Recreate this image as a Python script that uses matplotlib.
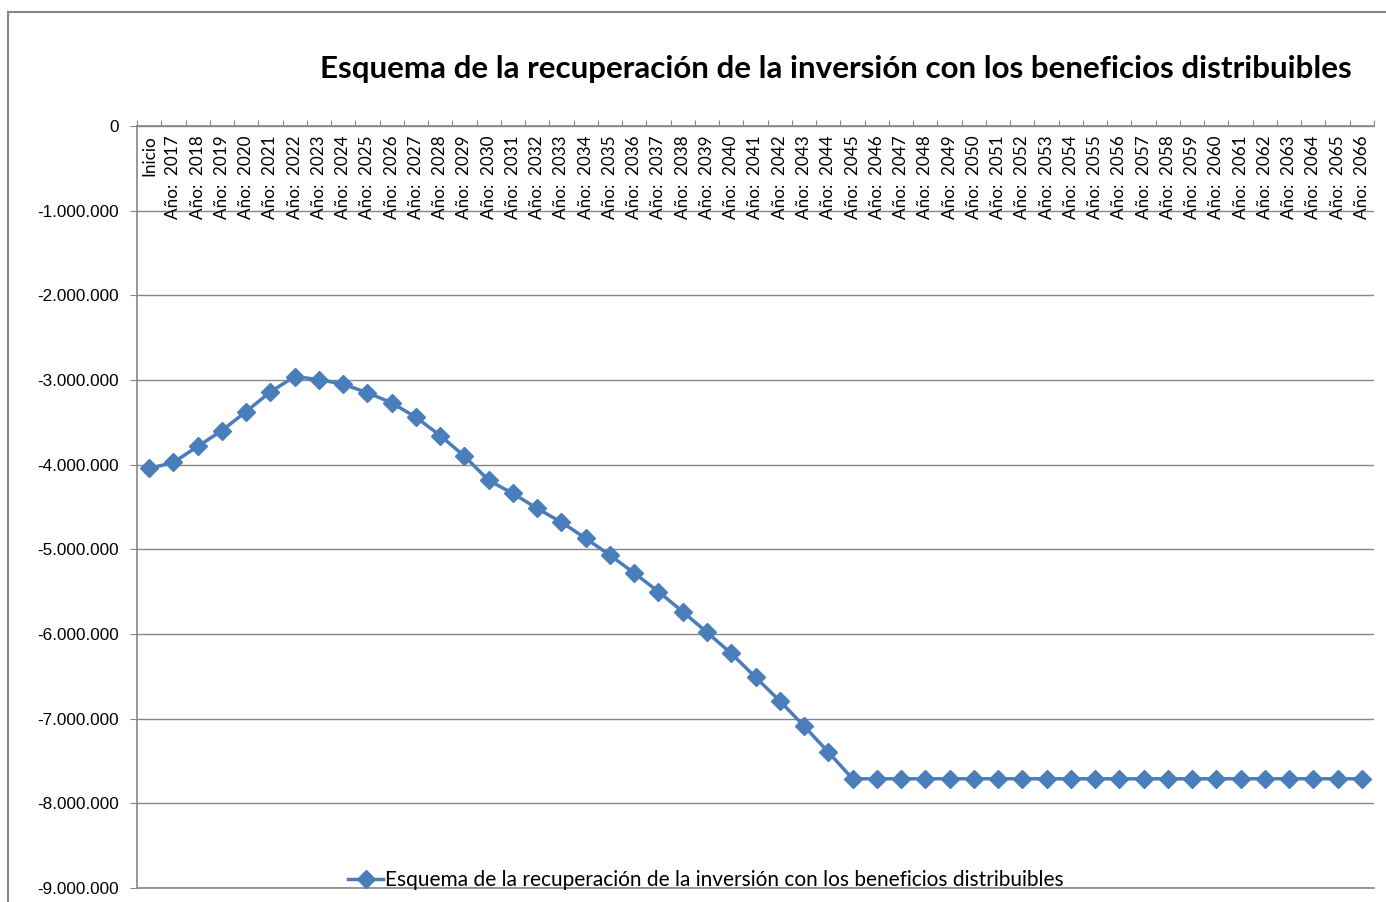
import numpy as np
import matplotlib
matplotlib.use('Agg')
import matplotlib.pyplot as plt
from matplotlib.patches import Rectangle
from matplotlib.ticker import FuncFormatter

# values (euros)
categories = ['Inicio'] + ['Año:  %d' % y for y in range(2017, 2067)]
values = [-4045000, -3974000, -3785000, -3597000, -3373000, -3140000,
          -2960000, -2995000, -3050000, -3150000, -3270000, -3440000,
          -3656000, -3900000, -4186000, -4340000, -4517000, -4680000,
          -4870000, -5070000, -5280000, -5500000, -5737000, -5980000,
          -6230000, -6510000, -6790000, -7087000, -7394000, -7710000]
values = values + [-7710000] * (len(categories) - len(values))

title = 'Esquema de la recuperación de la inversión con los beneficios distribuibles'
series_name = 'Esquema de la recuperación de la inversión con los beneficios distribuibles'

blue = '#4A7EBB'
gray = '#868686'

fig = plt.figure(figsize=(13.86, 9.02), dpi=100)
ax = fig.add_axes([137 / 1386, 14 / 902, 1237 / 1386, 762 / 902])

x = np.arange(len(categories))
ax.plot(x, values, color=blue, lw=2.5, marker='D', ms=9.5, mec=blue, mfc=blue,
        label=series_name, clip_on=False, zorder=3)

ax.set_xlim(-0.5, len(categories) - 0.5)
ax.set_ylim(-9000000, 0)
ax.set_yticks(np.arange(-9000000, 1, 1000000))
ax.yaxis.set_major_formatter(FuncFormatter(lambda v, p: f'{int(v):,}'.replace(',', '.')))
ax.grid(axis='y', color=gray, lw=1)
ax.set_axisbelow(True)

ax.spines['right'].set_visible(False)
for s in ['left', 'top', 'bottom']:
    ax.spines[s].set_color(gray)
    ax.spines[s].set_linewidth(1.2)

ax.tick_params(axis='y', length=5, color=gray, pad=8, labelsize=12.3)
for lab in ax.get_yticklabels():
    lab.set_family('Liberation Sans')

# category ticks between categories, on the top (zero) line
ax.xaxis.set_ticks_position('top')
ax.set_xticks(np.arange(-0.5, len(categories)), [])
ax.tick_params(axis='x', length=4, color=gray, direction='out')

for i, c in enumerate(categories):
    ax.text(i, 0.988, c, transform=ax.get_xaxis_transform(), rotation=90,
            ha='center', va='top', fontsize=12.3, family='Lato')

fig.text(836 / 1386, 1 - 69 / 902, title, ha='center', va='center',
         fontsize=22.6, fontweight='bold', family='Lato')

leg = fig.legend(loc='center', bbox_to_anchor=(706 / 1386, 1 - 880 / 902),
                 frameon=False, handlelength=1.7, handletextpad=0.1,
                 prop={'family': 'Lato', 'size': 15})

fig.add_artist(Rectangle((8 / 1386, -0.1), 2, 1 - 12 / 902 + 0.1,
                         transform=fig.transFigure, fill=False, ec=gray, lw=1.5))

fig.savefig('out.png', dpi=100)
